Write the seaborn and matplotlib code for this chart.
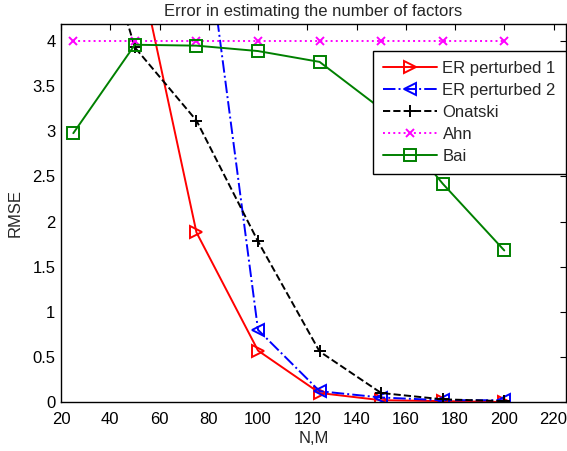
import numpy as np
import pandas as pd
import seaborn as sns
import matplotlib
matplotlib.use('Agg')
import matplotlib.pyplot as plt

# data (values above the top of the axes are estimated from the slope)
nm = [25, 50, 75, 100, 125, 150, 175, 200]
er1_x = [50, 75, 100, 125, 150, 175, 200]
er1 = [5.05, 1.88, 0.57, 0.10, 0.02, 0.01, 0.00]
er2_x = [75, 100, 125, 150, 175, 200]
er2 = [6.0, 0.80, 0.12, 0.05, 0.02, 0.02]
onatski = [6.2, 3.93, 3.12, 1.78, 0.56, 0.10, 0.03, 0.01]
ahn = [4, 4, 4, 4, 4, 4, 4, 4]
bai = [2.98, 3.96, 3.95, 3.89, 3.77, 3.25, 2.42, 1.68]

sns.set_style('white')
plt.rcParams['font.family'] = ['Liberation Sans', 'DejaVu Sans']

fig = plt.figure(figsize=(5.67, 4.51), dpi=100)
ax = fig.add_axes([0.1076, 0.1086, 0.8904, 0.8382])

series = [
    ('ER perturbed 1', er1_x, er1, 'red', '-', '>', 'none', 8),
    ('ER perturbed 2', er2_x, er2, 'blue', '-.', '<', 'none', 8),
    ('Onatski', nm, onatski, 'black', '--', '+', 'black', 8),
    ('Ahn', nm, ahn, 'magenta', ':', 'x', 'magenta', 5.5),
    ('Bai', nm, bai, 'green', '-', 's', 'none', 8),
]
for name, xs, ys, col, ls, mk, mfc, ms in series:
    d = pd.DataFrame({'x': xs, 'y': ys})
    sns.lineplot(data=d, x='x', y='y', ax=ax, color=col, linestyle=ls,
                 marker=mk, markersize=ms, markerfacecolor=mfc,
                 markeredgecolor=col, markeredgewidth=1.4, linewidth=1.4,
                 label=name)

ax.set_xlim(20, 225)
ax.set_ylim(0, 4.19)
ax.set_xticks(np.arange(20, 221, 20))
ax.set_yticks(np.arange(0, 4.01, 0.5))
ax.set_yticklabels(['0', '0.5', '1', '1.5', '2', '2.5', '3', '3.5', '4'])
ax.tick_params(direction='in', length=4, width=0.8, labelsize=12,
               top=True, right=True, colors='black')
ax.tick_params(axis='x', pad=7)
ax.tick_params(axis='y', pad=4)
for s in ax.spines.values():
    s.set_visible(True)
    s.set_color('black')
    s.set_linewidth(1.0)
ax.set_xlabel('N,M', fontsize=12, labelpad=3)
ax.set_ylabel('RMSE', fontsize=12, labelpad=7)
ax.set_title('Error in estimating the number of factors', fontsize=12, pad=6)

leg = ax.legend(loc='upper right', bbox_to_anchor=(1.0, 0.929), fontsize=12,
                fancybox=False, framealpha=1, edgecolor='black',
                handlelength=3.2, borderpad=0.6, labelspacing=0.42,
                handletextpad=0.35, borderaxespad=0)
leg.get_frame().set_linewidth(1.0)
leg.set_zorder(5)

fig.savefig('out.png', dpi=100)
